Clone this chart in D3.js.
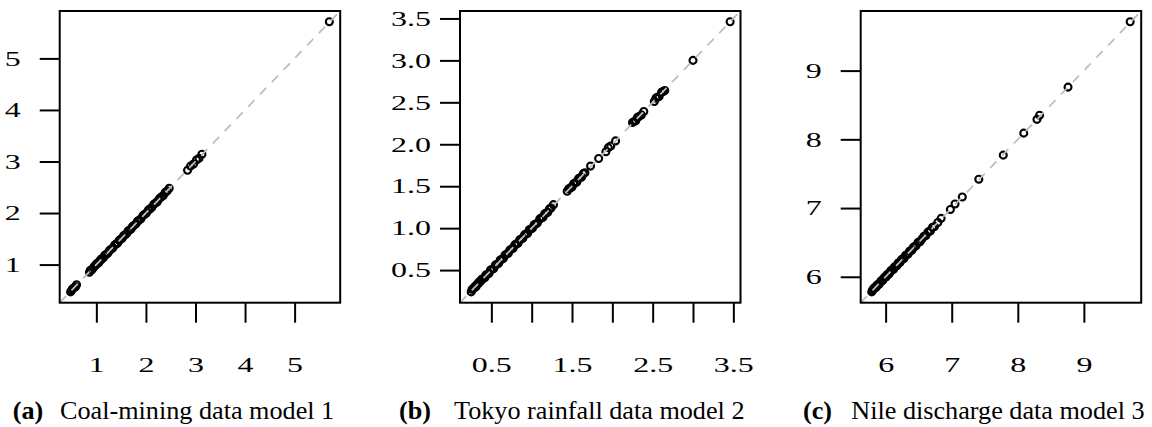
<!DOCTYPE html>
<html>
<head>
<meta charset="utf-8">
<script src="https://cdn.jsdelivr.net/npm/d3@7"></script>
<style>
  html, body { margin: 0; padding: 0; background: #fff; }
  svg { display: block; }
  text { font-family: "Liberation Serif", "DejaVu Serif", serif; fill: #000; }
</style>
</head>
<body>
<svg id="chart" width="1152" height="427"></svg>
<script>
// ---- Panel (a): coal-mining data, model 1 ----
const coalX = [0.48, 0.50, 0.52, 0.55, 0.58, 0.60,
  0.86, 0.88, 0.91, 0.94, 0.97, 0.99, 1.01, 1.03, 1.05, 1.07, 1.09, 1.11, 1.14, 1.17,
  1.20, 1.23, 1.26, 1.29, 1.33, 1.37, 1.40, 1.43, 1.46, 1.49, 1.52, 1.55, 1.58, 1.61,
  1.64, 1.67, 1.70, 1.73, 1.76, 1.80, 1.83, 1.86, 1.90, 1.94, 1.97, 2.01, 2.05, 2.08,
  2.12, 2.16, 2.20, 2.23, 2.27, 2.31, 2.35, 2.39, 2.43, 2.47,
  2.84, 2.90, 2.96, 3.02, 3.07, 3.13,
  5.70];
const coalY = [0.47, 0.50, 0.53, 0.55, 0.57, 0.61,
  0.85, 0.89, 0.90, 0.94, 0.98, 0.99, 1.02, 1.03, 1.04, 1.07, 1.10, 1.11, 1.13, 1.18,
  1.20, 1.22, 1.27, 1.29, 1.32, 1.38, 1.40, 1.42, 1.47, 1.49, 1.51, 1.56, 1.58, 1.60,
  1.65, 1.67, 1.69, 1.74, 1.76, 1.79, 1.84, 1.86, 1.89, 1.95, 1.97, 2.00, 2.06, 2.08,
  2.11, 2.17, 2.20, 2.22, 2.28, 2.31, 2.34, 2.40, 2.43, 2.48,
  2.83, 2.91, 2.95, 3.03, 3.06, 3.14,
  5.71];
const coalTicks = [1, 2, 3, 4, 5];
const coalXLabels = ["1", "2", "3", "4", "5"];
const coalYLabels = ["1", "2", "3", "4", "5"];

// ---- Panel (b): Tokyo rainfall data, model 2 ----
const tokyoX = [0.25, 0.26, 0.28, 0.29, 0.31, 0.32, 0.34, 0.35, 0.37, 0.38, 0.40, 0.42,
  0.43, 0.45, 0.47, 0.49, 0.51, 0.53, 0.55, 0.57, 0.59, 0.61, 0.63, 0.65, 0.67, 0.69,
  0.71, 0.73, 0.75, 0.77, 0.79, 0.81, 0.83, 0.85, 0.87, 0.89, 0.91, 0.93, 0.95, 0.97,
  0.99, 1.01, 1.03, 1.05, 1.07, 1.10, 1.12, 1.14, 1.16, 1.18, 1.20, 1.22, 1.24, 1.27,
  1.44, 1.46, 1.48, 1.50, 1.52, 1.54, 1.56, 1.58, 1.60, 1.62, 1.64, 1.66,
  1.73, 1.83, 1.92, 1.95, 1.98, 2.04,
  2.25, 2.27, 2.29, 2.31, 2.33, 2.36, 2.39,
  2.52, 2.54, 2.56, 2.58, 2.61, 2.63, 2.65,
  3.00, 3.46];
const tokyoY = [0.24, 0.27, 0.28, 0.30, 0.30, 0.33, 0.34, 0.36, 0.37, 0.39, 0.40, 0.41,
  0.44, 0.45, 0.46, 0.50, 0.51, 0.52, 0.56, 0.57, 0.58, 0.62, 0.63, 0.64, 0.68, 0.69,
  0.70, 0.74, 0.75, 0.76, 0.80, 0.81, 0.82, 0.86, 0.87, 0.88, 0.92, 0.93, 0.94, 0.98,
  0.99, 1.00, 1.04, 1.05, 1.06, 1.11, 1.12, 1.13, 1.17, 1.18, 1.19, 1.23, 1.24, 1.28,
  1.44, 1.47, 1.48, 1.49, 1.53, 1.54, 1.55, 1.59, 1.60, 1.61, 1.65, 1.66,
  1.74, 1.83, 1.91, 1.96, 1.98, 2.04,
  2.26, 2.27, 2.28, 2.32, 2.33, 2.35, 2.39,
  2.51, 2.55, 2.56, 2.57, 2.62, 2.63, 2.64,
  3.00, 3.46];
const tokyoXTicks = [0.5, 1.0, 1.5, 2.0, 2.5, 3.0, 3.5];
const tokyoXLabels = ["0.5", "", "1.5", "", "2.5", "", "3.5"];
const tokyoYTicks = [0.5, 1.0, 1.5, 2.0, 2.5, 3.0, 3.5];
const tokyoYLabels = ["0.5", "1.0", "1.5", "2.0", "2.5", "3.0", "3.5"];

// ---- Panel (c): Nile discharge data, model 3 ----
const nileX = [5.79, 5.80, 5.81, 5.82, 5.83, 5.85, 5.86, 5.87, 5.89, 5.90, 5.92, 5.93,
  5.95, 5.96, 5.98, 5.99, 6.01, 6.02, 6.04, 6.05, 6.07, 6.08, 6.10, 6.12, 6.13, 6.15,
  6.17, 6.19, 6.20, 6.22, 6.24, 6.26, 6.28, 6.30, 6.32, 6.34, 6.36, 6.38, 6.40, 6.42,
  6.44, 6.46, 6.49, 6.52, 6.55, 6.58, 6.61, 6.64, 6.66, 6.68, 6.71, 6.74, 6.79, 6.84,
  6.98, 7.05, 7.16, 7.41, 7.78, 8.09, 8.29, 8.33, 8.76, 9.70];
const nileY = [5.78, 5.80, 5.82, 5.82, 5.84, 5.85, 5.85, 5.88, 5.89, 5.89, 5.92, 5.94,
  5.94, 5.96, 5.99, 5.99, 6.00, 6.03, 6.04, 6.04, 6.07, 6.09, 6.10, 6.11, 6.14, 6.15,
  6.16, 6.20, 6.20, 6.21, 6.25, 6.26, 6.27, 6.31, 6.32, 6.33, 6.37, 6.38, 6.39, 6.43,
  6.44, 6.45, 6.50, 6.51, 6.55, 6.59, 6.60, 6.65, 6.66, 6.67, 6.72, 6.73, 6.79, 6.85,
  6.98, 7.06, 7.16, 7.42, 7.77, 8.09, 8.29, 8.35, 8.76, 9.71];
const nileTicks = [6, 7, 8, 9];
const nileXLabels = ["6", "7", "8", "9"];
const nileYLabels = ["6", "7", "8", "9"];

const panels = [
  { tag: "(a)", caption: "Coal-mining data model 1", xs: coalX, ys: coalY,
    xTicks: coalTicks, xLabels: coalXLabels, yTicks: coalTicks, yLabels: coalYLabels,
    left: 59.7, yLabelGap: 19, tagX: 12.7, captionX: 60 },
  { tag: "(b)", caption: "Tokyo rainfall data model 2", xs: tokyoX, ys: tokyoY,
    xTicks: tokyoXTicks, xLabels: tokyoXLabels, yTicks: tokyoYTicks, yLabels: tokyoYLabels,
    left: 460, yLabelGap: 9, tagX: 399, captionX: 454 },
  { tag: "(c)", caption: "Nile discharge data model 3", xs: nileX, ys: nileY,
    xTicks: nileTicks, xLabels: nileXLabels, yTicks: nileTicks, yLabels: nileYLabels,
    left: 860.7, yLabelGap: 19, tagX: 803, captionX: 851.3 }
];

const plotW = 280.5, plotTop = 11, plotBottom = 302.7;
const tickLen = 20;
const labelSize = 20, labelStretch = 1.6;
const captionSize = 26.2;
const svg = d3.select("#chart");

panels.forEach((p, i) => {
  // axis limits: joint range of both coordinates, padded 4% on each side
  const all = p.xs.concat(p.ys);
  const [lo, hi] = d3.extent(all);
  const pad = (hi - lo) * 0.04;
  const dom = [lo - pad, hi + pad];

  const x = d3.scaleLinear().domain(dom).range([p.left, p.left + plotW]);
  const y = d3.scaleLinear().domain(dom).range([plotBottom, plotTop]);

  const g = svg.append("g");

  const clipId = "clip" + i;
  svg.append("defs").append("clipPath").attr("id", clipId)
    .append("rect").attr("x", p.left).attr("y", plotTop)
    .attr("width", plotW).attr("height", plotBottom - plotTop);

  const plot = g.append("g").attr("clip-path", `url(#${clipId})`);

  // points
  plot.selectAll("circle").data(d3.zip(p.xs, p.ys)).join("circle")
    .attr("cx", d => x(d[0])).attr("cy", d => y(d[1]))
    .attr("r", 3.5)
    .attr("fill", "none").attr("stroke", "#000").attr("stroke-width", 2.1);

  // identity reference line
  plot.append("line")
    .attr("x1", x(dom[0])).attr("y1", y(dom[0]))
    .attr("x2", x(dom[1])).attr("y2", y(dom[1]))
    .attr("stroke", "#bdbdbd").attr("stroke-width", 1.7)
    .attr("stroke-dasharray", "9,8");

  // frame
  g.append("rect").attr("x", p.left).attr("y", plotTop)
    .attr("width", plotW).attr("height", plotBottom - plotTop)
    .attr("fill", "none").attr("stroke", "#000").attr("stroke-width", 2);

  // x axis
  const xAxis = d3.axisBottom(x).tickValues(p.xTicks).tickSize(tickLen)
    .tickFormat((d, k) => p.xLabels[k]);
  const gx = g.append("g").attr("transform", `translate(0,${plotBottom})`).call(xAxis);
  gx.select(".domain").remove();
  gx.selectAll(".tick line").attr("stroke", "#000").attr("stroke-width", 2);
  gx.selectAll(".tick text")
    .attr("y", null).attr("dy", null)
    .attr("transform", `translate(0,${63}) scale(${labelStretch},1)`)
    .attr("dominant-baseline", "central")
    .style("font-family", '"Liberation Serif", serif')
    .style("font-size", labelSize + "px");

  // y axis
  const yAxis = d3.axisLeft(y).tickValues(p.yTicks).tickSize(tickLen)
    .tickFormat((d, k) => p.yLabels[k]);
  const gy = g.append("g").attr("transform", `translate(${p.left},0)`).call(yAxis);
  gy.select(".domain").remove();
  gy.selectAll(".tick line").attr("stroke", "#000").attr("stroke-width", 2);
  gy.selectAll(".tick text")
    .attr("x", null).attr("dy", null)
    .attr("text-anchor", "end")
    .attr("dominant-baseline", "central")
    .attr("transform", `translate(${-(tickLen + p.yLabelGap)},0) scale(${labelStretch},1)`)
    .style("font-family", '"Liberation Serif", serif')
    .style("font-size", labelSize + "px");

  // caption
  g.append("text").attr("x", p.tagX).attr("y", 419)
    .style("font-size", captionSize + "px").style("font-weight", "bold")
    .text(p.tag);
  g.append("text").attr("x", p.captionX).attr("y", 419)
    .style("font-size", captionSize + "px")
    .text(p.caption);
});
</script>
</body>
</html>
